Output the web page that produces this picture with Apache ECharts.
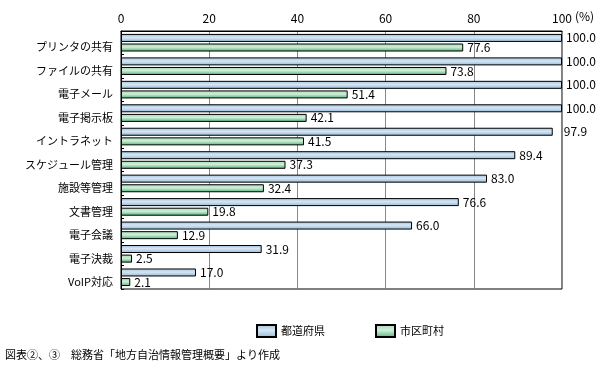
<!DOCTYPE html>
<html><head><meta charset="utf-8">
<script src="https://cdn.jsdelivr.net/npm/echarts@6/dist/echarts.min.js"></script>
<style>html,body{margin:0;padding:0;background:#fff}#c{width:609px;height:370px}</style>
</head><body><div id="c"></div>
<script>
const categories = ["プリンタの共有","ファイルの共有","電子メール","電子掲示板","イントラネット","スケジュール管理","施設等管理","文書管理","電子会議","電子決裁","VoIP対応"];
const prefValues = [100.0,100.0,100.0,100.0,97.9,89.4,83.0,76.6,66.0,31.9,17.0];
const muniValues = [77.6,73.8,51.4,42.1,41.5,37.3,32.4,19.8,12.9,2.5,2.1];
const seriesNames = ["都道府県","市区町村"];
const xTicks = [0,20,40,60,80,100];
const FONT = '"Noto Sans CJK JP", sans-serif';

const blueGrad = new echarts.graphic.LinearGradient(0,0,0,1,[
  {offset:0,color:'#9fc0de'},{offset:0.45,color:'#d6e6f2'},{offset:1,color:'#93b8da'}]);
const greenGrad = new echarts.graphic.LinearGradient(0,0,0,1,[
  {offset:0,color:'#a2d9b3'},{offset:0.45,color:'#d0eed8'},{offset:1,color:'#4fae75'}]);

const chart = echarts.init(document.getElementById('c'), null, {renderer:'canvas'});
const lbl = {show:true, position:'right', distance:4, color:'#000', fontSize:12, fontFamily:FONT,
  formatter: p => p.value.toFixed(1)};
chart.setOption({
  animation:false,
  textStyle:{fontFamily:FONT},
  grid:{left:121, right:47, top:31, bottom:81, show:true, borderColor:'#000', borderWidth:1},
  xAxis:{type:'value', position:'top', min:0, max:100, interval:20,
    axisLine:{show:true, lineStyle:{color:'#000'}}, axisTick:{show:false},
    axisLabel:{color:'#000', fontSize:12, fontFamily:FONT, margin:7,
      formatter: v => xTicks.includes(v) ? String(v) : ''},
    splitLine:{show:true, lineStyle:{color:'#888', width:1}}},
  yAxis:{type:'category', data:categories, inverse:true,
    axisLine:{show:true, lineStyle:{color:'#000'}},
    axisTick:{show:true, inside:true, length:3, lineStyle:{color:'#000'}},
    axisLabel:{color:'#000', fontSize:11, fontFamily:FONT, margin:8, verticalAlign:'top', lineHeight:9}},
  legend:{bottom:27, left:251, itemWidth:19, itemHeight:12, itemGap:50, icon:'rect',
    textStyle:{color:'#000', fontSize:11, fontFamily:FONT},
    data:seriesNames},
  series:[
    {name:seriesNames[0], type:'bar', barWidth:8, barGap:'20%',
     itemStyle:{color:blueGrad, borderColor:'#000', borderWidth:1},
     label:lbl,
     data: prefValues.map(v => v===97.9 ? {value:v, label:{distance:11}} : v)},
    {name:seriesNames[1], type:'bar', barWidth:8, barGap:'20%',
     itemStyle:{color:greenGrad, borderColor:'#000', borderWidth:1},
     label:lbl, data: muniValues}
  ],
  graphic:[
    {type:'text', left:575, top:10, style:{text:'(%)', fill:'#000', font:'12px '+FONT}},
    {type:'text', left:5, top:349, style:{text:'図表②、③　総務省「地方自治情報管理概要」より作成', fill:'#000', font:'11px '+FONT}}
  ]
});
</script></body></html>
